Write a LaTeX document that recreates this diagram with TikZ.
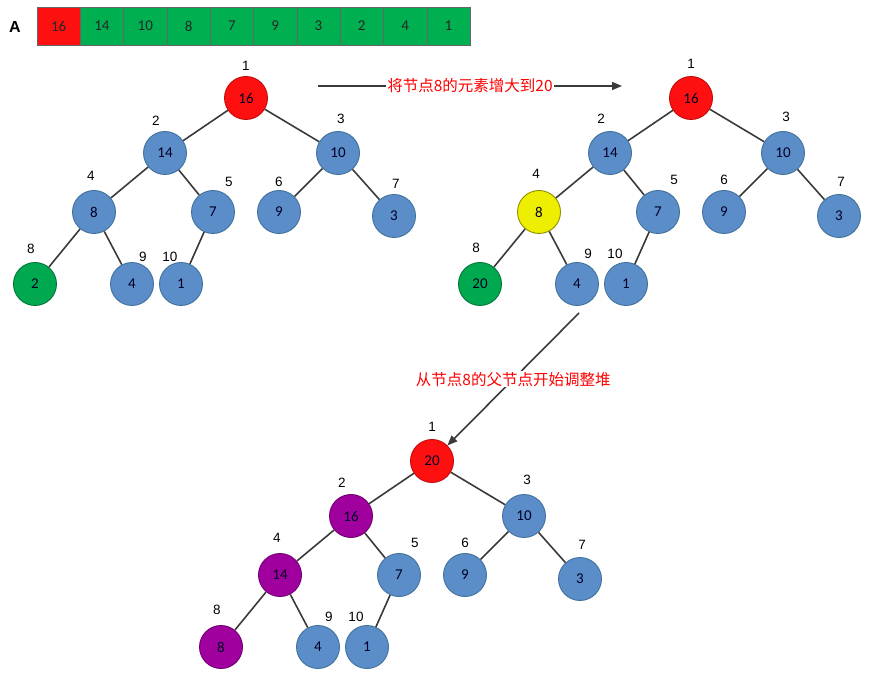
\documentclass[tikz,border=0pt]{standalone}
\usepackage{fontspec}
\usepackage{xcolor}
\usepackage{tikz}
\usetikzlibrary{arrows.meta}
\setmainfont{Carlito}
\newfontfamily\cjk{Noto Sans CJK SC}
\newfontfamily\arial{Liberation Sans}
\definecolor{azul}{HTML}{5B8DC9}
\definecolor{azulb}{HTML}{41719C}
\definecolor{rojo}{HTML}{FF1010}
\definecolor{verde}{HTML}{00A84F}
\definecolor{verdec}{HTML}{00B050}
\definecolor{amarillo}{HTML}{EEEE00}
\definecolor{morado}{HTML}{A0009E}
\definecolor{linea}{HTML}{3A3A3A}

\begin{document}
\begin{tikzpicture}[
  x=1pt, y=-1pt,
  nodo/.style={circle, draw=azulb, fill=azul, line width=0.9pt, minimum size=43pt, inner sep=0pt,
               font=\fontsize{15}{17}\selectfont, text=black!85!blue},
  nrojo/.style={nodo, fill=rojo, draw=rojo!75!black},
  nverde/.style={nodo, fill=verde, draw=verde!70!black},
  namar/.style={nodo, fill=amarillo, draw=amarillo!60!black},
  nmorado/.style={nodo, fill=morado, draw=morado!70!black},
  num/.style={font=\arial\fontsize{13.5}{15}\selectfont, inner sep=0pt},
  arista/.style={draw=linea, line width=1.6pt},
  celda/.style={draw=black!60, fill=verdec, minimum width=43.3pt, minimum height=38pt, inner sep=0pt,
                font=\fontsize{15}{17}\selectfont, text=black!85},
  flecha/.style={-{Triangle[length=10pt, width=8pt]}, draw=linea, line width=1.6pt},
  etiq/.style={font=\cjk\fontsize{15.5}{17}\selectfont, text=red, fill=white, inner sep=1pt, midway}
]
  \useasboundingbox (0,0) rectangle (887,676);

  % array A
  \node[font=\arial\bfseries\fontsize{16}{18}\selectfont] (nomA) at (15,27) {A};
  \foreach \i/\v in {1/16,2/14,3/10,4/8,5/7,6/9,7/3,8/2,9/4,10/1}
    \node[celda] (cel\i) at ({37+43.3*(\i-0.5)},26) {\v};
  \node[celda, fill=rojo] (cel1) at ({37+43.3*0.5},26) {16};

  % heap before the increase
  \foreach \i/\x/\y/\v/\e in {1/246/98/16/nrojo, 2/165/153/14/nodo, 3/338/153/10/nodo,
      4/94/212/8/nodo, 5/213/212/7/nodo, 6/279/212/9/nodo, 7/394/216/3/nodo,
      8/35/284/2/nverde, 9/132/284/4/nodo, 10/181/284/1/nodo}
    \node[\e] (a\i) at (\x,\y) {\v};
  \foreach \p/\h in {1/2,1/3,2/4,2/5,3/6,3/7,4/8,4/9,5/10}
    \draw[arista] (a\p) -- (a\h);
  \foreach \i/\x/\y in {1/246/66, 2/156/121, 3/341/119, 4/91/176, 5/229/182,
      6/279/182, 7/396/184, 8/31/249, 9/143/257, 10/170/257}
    \node[num] (a\i n) at (\x,\y) {\i};

  % heap after node 8 is set to 20
  \begin{scope}[shift={(445,0)}]
    \foreach \i/\x/\y/\v/\e in {1/246/98/16/nrojo, 2/165/153/14/nodo, 3/338/153/10/nodo,
        4/94/212/8/namar, 5/213/212/7/nodo, 6/279/212/9/nodo, 7/394/216/3/nodo,
        8/35/284/20/nverde, 9/132/284/4/nodo, 10/181/284/1/nodo}
      \node[\e] (b\i) at (\x,\y) {\v};
    \foreach \p/\h in {1/2,1/3,2/4,2/5,3/6,3/7,4/8,4/9,5/10}
      \draw[arista] (b\p) -- (b\h);
    \foreach \i/\x/\y in {1/246/64, 2/156/119, 3/341/117, 4/91/174, 5/229/180,
        6/279/180, 7/396/182, 8/31/248, 9/143/254, 10/170/254}
      \node[num] (b\i n) at (\x,\y) {\i};
  \end{scope}

  % heap after sifting up
  \begin{scope}[shift={(186,363)}]
    \foreach \i/\x/\y/\v/\e in {1/246/98/20/nrojo, 2/165/153/16/nmorado, 3/338/153/10/nodo,
        4/94/212/14/nmorado, 5/213/212/7/nodo, 6/279/212/9/nodo, 7/394/216/3/nodo,
        8/35/284/8/nmorado, 9/132/284/4/nodo, 10/181/284/1/nodo}
      \node[\e] (c\i) at (\x,\y) {\v};
    \foreach \p/\h in {1/2,1/3,2/4,2/5,3/6,3/7,4/8,4/9,5/10}
      \draw[arista] (c\p) -- (c\h);
    \foreach \i/\x/\y in {1/246/64, 2/156/120, 3/341/117, 4/91/175, 5/229/180,
        6/279/180, 7/396/182, 8/31/247, 9/143/254, 10/170/254}
      \node[num] (c\i n) at (\x,\y) {\i};
  \end{scope}

  \coordinate (f1a) at (318,86);
  \coordinate (f1b) at (622,86);
  \draw[flecha] (f1a) -- (f1b) node[etiq] {将节点8的元素增大到20};
  \coordinate (f2a) at (579,313);
  \draw[flecha] (f2a) -- (c1) node[etiq] {从节点8的父节点开始调整堆};
\end{tikzpicture}
\end{document}
